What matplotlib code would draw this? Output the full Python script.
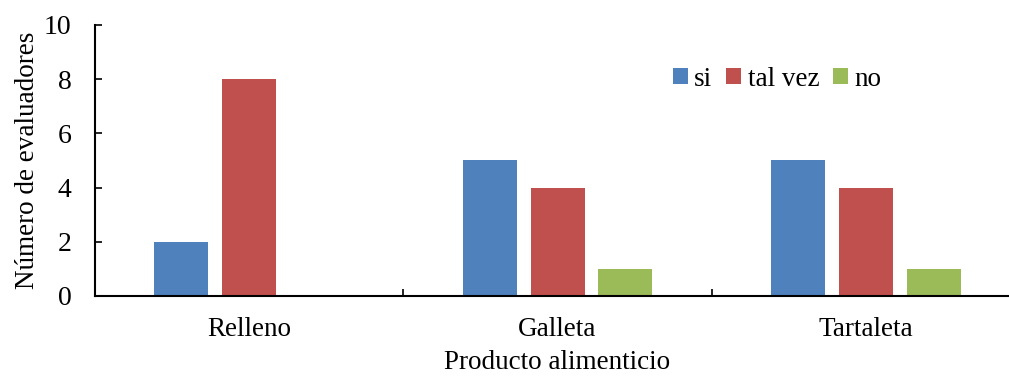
import numpy as np
import matplotlib.pyplot as plt

plt.rcParams['font.family'] = ['Liberation Serif', 'DejaVu Serif']

# Datos
productos = ['Relleno', 'Galleta', 'Tartaleta']
si = [2, 5, 5]
tal_vez = [8, 4, 4]
no = [0, 1, 1]

fig = plt.figure(figsize=(10.09, 3.78), dpi=100)
ax = fig.add_axes([0.0942, 0.217, 0.9167, 0.717])

x = np.arange(len(productos))
ancho = 0.175
sep = 0.22
ax.bar(x - sep, si, ancho, color='#4F81BD', label='si')
ax.bar(x, tal_vez, ancho, color='#C0504D', label='tal vez')
ax.bar(x + sep, no, ancho, color='#9BBB59', label='no')

ax.set_xlim(-0.5, 2.5)
ax.set_ylim(0, 10)
ax.set_yticks(range(0, 11, 2))
ax.set_xticks(x)
ax.set_xticklabels(productos)
ax.set_xticks([0.5, 1.5], minor=True)

ax.tick_params(axis='x', which='major', length=0, labelsize=19.5, pad=15)
ax.tick_params(axis='x', which='minor', direction='in', length=5, width=1.2)
ax.tick_params(axis='y', direction='in', length=5, width=1.2, labelsize=20, pad=17)

for s in ['top', 'right']:
    ax.spines[s].set_visible(False)
for s in ['left', 'bottom']:
    ax.spines[s].set_linewidth(1.5)

ax.set_xlabel('Producto alimenticio', fontsize=19.5, labelpad=6)
ax.set_ylabel('Número de evaluadores', fontsize=19.5, labelpad=3)

leg = ax.legend(loc='center left', bbox_to_anchor=(0.6245, 0.8), ncol=3, frameon=False,
                fontsize=19.5, handlelength=0.55, handleheight=0.55, handletextpad=0.25,
                columnspacing=0.5, borderpad=0, borderaxespad=0)

fig.savefig('out.png', dpi=100)
